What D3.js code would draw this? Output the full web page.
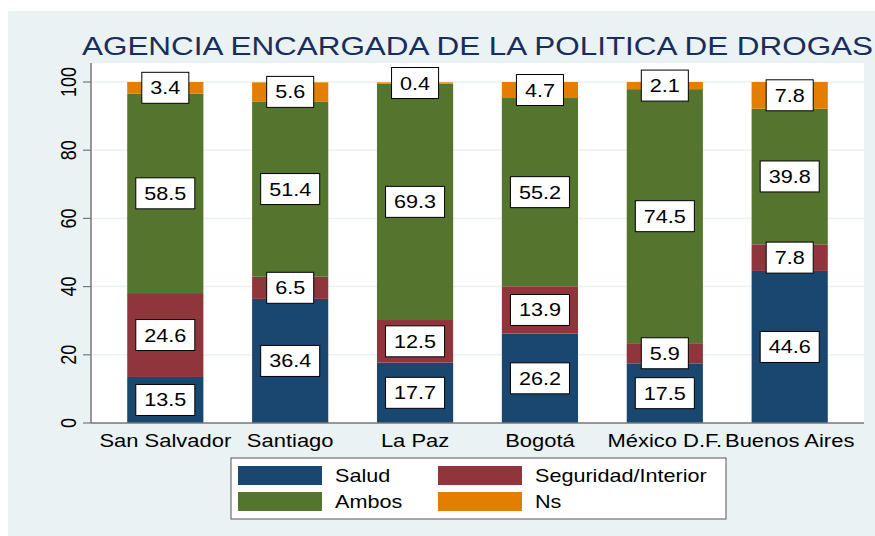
<!DOCTYPE html>
<html>
<head>
<meta charset="utf-8">
<script src="https://cdn.jsdelivr.net/npm/d3@7"></script>
<style>
  body { margin: 0; background: #fff; }
  text { font-family: "Liberation Sans", Arial, sans-serif; }
</style>
</head>
<body>
<div id="chart-container"></div>
<script>
// Datos
const ciudades = ["San Salvador", "Santiago", "La Paz", "Bogotá", "México D.F.", "Buenos Aires"];
const series = ["Salud", "Seguridad/Interior", "Ambos", "Ns"];
const salud = [13.5, 36.4, 17.7, 26.2, 17.5, 44.6];
const seguridad = [24.6, 6.5, 12.5, 13.9, 5.9, 7.8];
const ambos = [58.5, 51.4, 69.3, 55.2, 74.5, 39.8];
const ns = [3.4, 5.6, 0.4, 4.7, 2.1, 7.8];
const yTicks = [0, 20, 40, 60, 80, 100];
const colores = ["#1a476f", "#90353b", "#55752f", "#e37e00"];

const width = 875, height = 536;
const plot = { left: 91, right: 864, top: 63, bottom: 423 };
const sx = 1.2; // el original está estirado en horizontal

const tabla = ciudades.map((c, i) => ({
    ciudad: c, "Salud": salud[i], "Seguridad/Interior": seguridad[i], "Ambos": ambos[i], "Ns": ns[i]
}));
const pila = d3.stack().keys(series)(tabla);

const svg = d3.select("#chart-container").append("svg")
    .attr("width", width).attr("height", height);

// fondo
svg.append("rect").attr("x", 8).attr("y", 11)
    .attr("width", width - 8).attr("height", height - 11).attr("fill", "#eaf2f3");
svg.append("rect").attr("x", plot.left).attr("y", plot.top)
    .attr("width", plot.right - plot.left).attr("height", plot.bottom - plot.top).attr("fill", "#fff");

// escalas
const x = d3.scaleBand().domain(ciudades).range([plot.left, plot.right])
    .paddingInner(0.39).paddingOuter(0.29);
const y = d3.scaleLinear().domain([0, 100]).range([plot.bottom, 82]);

function texto(g, tx, ty, extra) {
    return g.append("text")
        .attr("transform", `translate(${tx},${ty}) scale(${sx},1)` + (extra || ""));
}

// rejilla
svg.append("g").selectAll("line").data(yTicks.slice(1)).enter().append("line")
    .attr("x1", plot.left).attr("x2", plot.right)
    .attr("y1", d => y(d)).attr("y2", d => y(d))
    .attr("stroke", "#eaf2f3").attr("stroke-width", 1.5);

// barras
const capas = svg.append("g").selectAll("g").data(pila).enter().append("g")
    .attr("fill", (d, i) => colores[i]);
capas.selectAll("rect").data(d => d).enter().append("rect")
    .attr("x", d => x(d.data.ciudad))
    .attr("width", x.bandwidth())
    .attr("y", d => y(d[1]))
    .attr("height", d => y(d[0]) - y(d[1]));

// etiquetas
const etiquetas = svg.append("g");
pila.forEach(capa => {
    capa.forEach(d => {
        const cx = x(d.data.ciudad) + x.bandwidth() / 2;
        const cy = (y(d[0]) + y(d[1])) / 2;
        const g = etiquetas.append("g");
        const t = texto(g, cx, cy + 6.5)
            .attr("text-anchor", "middle").attr("font-size", 18).attr("fill", "#000")
            .text(d3.format(".1f")(d[1] - d[0]));
        const w = t.node().getComputedTextLength() * sx + 17;
        g.insert("rect", "text")
            .attr("x", cx - w / 2).attr("y", cy - 15.5)
            .attr("width", w).attr("height", 31)
            .attr("fill", "#fff").attr("stroke", "#000").attr("stroke-width", 1);
    });
});

// ejes
const ejeY = svg.append("g");
ejeY.append("line").attr("x1", plot.left).attr("x2", plot.left)
    .attr("y1", plot.top).attr("y2", plot.bottom).attr("stroke", "#777").attr("stroke-width", 1.5);
yTicks.forEach(v => {
    ejeY.append("line").attr("x1", plot.left - 8).attr("x2", plot.left)
        .attr("y1", y(v)).attr("y2", y(v)).attr("stroke", "#777").attr("stroke-width", 1.2);
    texto(ejeY, 76, y(v), " rotate(-90)")
        .attr("text-anchor", "middle").attr("font-size", 18).attr("fill", "#000")
        .text(v);
});
svg.append("line").attr("x1", plot.left).attr("x2", plot.right)
    .attr("y1", plot.bottom).attr("y2", plot.bottom).attr("stroke", "#777").attr("stroke-width", 1.5);
ciudades.forEach(c => {
    texto(svg, x(c) + x.bandwidth() / 2, 447)
        .attr("text-anchor", "middle").attr("font-size", 18.3).attr("fill", "#000").text(c);
});

// titulo
texto(svg, (plot.left + plot.right) / 2, 55)
    .attr("text-anchor", "middle").attr("font-size", 26.2).attr("fill", "#1a2e5c")
    .text("AGENCIA ENCARGADA DE LA POLITICA DE DROGAS");

// leyenda
const ley = svg.append("g");
ley.append("rect").attr("x", 231).attr("y", 458).attr("width", 495).attr("height", 61)
    .attr("fill", "#fff").attr("stroke", "#555").attr("stroke-width", 1);
series.forEach((s, i) => {
    const lx = 238 + (i % 2) * 200, ly = 466 + Math.floor(i / 2) * 26;
    ley.append("rect").attr("x", lx).attr("y", ly).attr("width", 84).attr("height", 19)
        .attr("fill", colores[i]);
    texto(ley, lx + 97, ly + 16).attr("font-size", 18).attr("fill", "#000").text(s);
});
</script>
</body>
</html>
